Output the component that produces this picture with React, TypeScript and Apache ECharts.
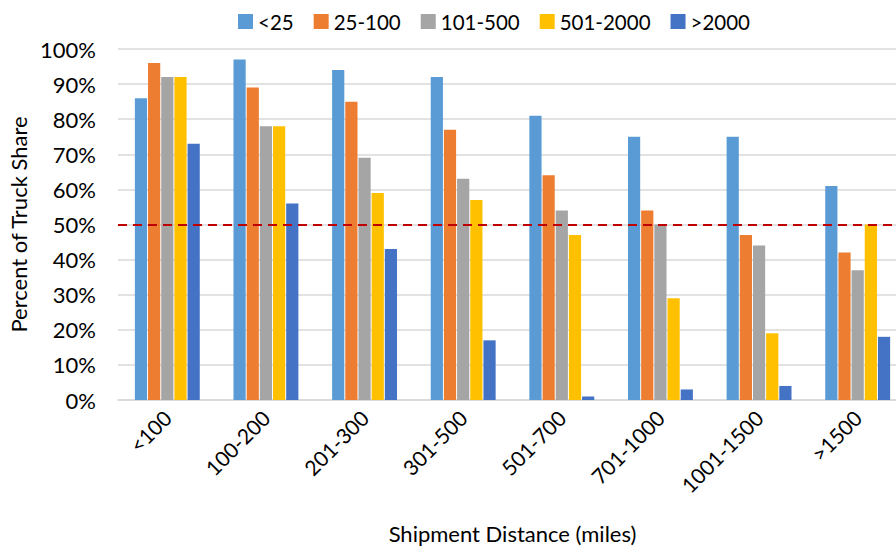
import React, { useEffect, useRef } from "react";
import * as echarts from "echarts";

const categories = ["<100", "100-200", "201-300", "301-500", "501-700", "701-1000", "1001-1500", ">1500"];
const seriesNames = ["<25", "25-100", "101-500", "501-2000", ">2000"];
const colors = ["#5B9BD5", "#ED7D31", "#A5A5A5", "#FFC000", "#4472C4"];
const lt25 = [86, 97, 94, 92, 81, 75, 75, 61];
const s25to100 = [96, 89, 85, 77, 64, 54, 47, 42];
const s101to500 = [92, 78, 69, 63, 54, 50, 44, 37];
const s501to2000 = [92, 78, 59, 57, 47, 29, 19, 50];
const gt2000 = [73, 56, 43, 17, 1, 3, 4, 18];
const seriesValues = [lt25, s25to100, s101to500, s501to2000, gt2000];
const thresholdValue = 50;

const FONT = "Lato";

export default function App() {
  const ref = useRef<HTMLDivElement>(null);
  useEffect(() => {
    if (!ref.current) return;
    const chart = echarts.init(ref.current, null, { renderer: "svg" });
    const series: any[] = seriesNames.map((name, i) => ({
      name,
      type: "bar",
      data: seriesValues[i],
      barWidth: 12.2,
      barGap: "8%",
      itemStyle: { color: colors[i] },
      emphasis: { disabled: true },
    }));
    series[0].markLine = {
      silent: true,
      symbol: ["none", "none"],
      label: { show: false },
      lineStyle: { color: "#C00000", type: [9, 6], width: 2 },
      data: [{ yAxis: thresholdValue }],
    };
    chart.setOption({
      animation: false,
      textStyle: { fontFamily: FONT },
      legend: {
        top: 6,
        left: 233,
        itemWidth: 15,
        itemHeight: 15,
        itemGap: 20,
        itemTextGap: 5,
        icon: "rect",
        textStyle: { fontSize: 20.5, color: "#000", fontFamily: FONT },
        data: seriesNames,
      },
      grid: {
        left: 118,
        width: 789,
        top: 49,
        height: 351,
        containLabel: false,
        outerBoundsMode: "none",
      },
      xAxis: {
        type: "category",
        data: categories,
        name: "Shipment Distance (miles)",
        nameLocation: "middle",
        nameGap: 122,
        nameTextStyle: { fontSize: 22, color: "#000", fontFamily: FONT },
        axisLine: { lineStyle: { color: "#D9D9D9", width: 1.5 } },
        axisTick: { show: false },
        axisLabel: { rotate: 45, fontSize: 21, color: "#000", margin: 14, fontFamily: FONT, interval: 0 },
      },
      yAxis: {
        type: "value",
        min: 0,
        max: 100,
        interval: 10,
        name: "Percent of Truck Share",
        nameLocation: "middle",
        nameGap: 86,
        nameRotate: 90,
        nameTextStyle: { fontSize: 22, color: "#000", fontFamily: FONT },
        axisLine: { show: false },
        axisTick: { show: false },
        splitLine: { lineStyle: { color: "#D9D9D9", width: 1.5 } },
        axisLabel: { formatter: "{value}%", fontSize: 22, color: "#000", margin: 22, fontFamily: FONT },
      },
      series,
    });
    return () => chart.dispose();
  }, []);
  return <div ref={ref} style={{ width: 896, height: 550, position: "absolute", left: 0, top: 0 }} />;
}
